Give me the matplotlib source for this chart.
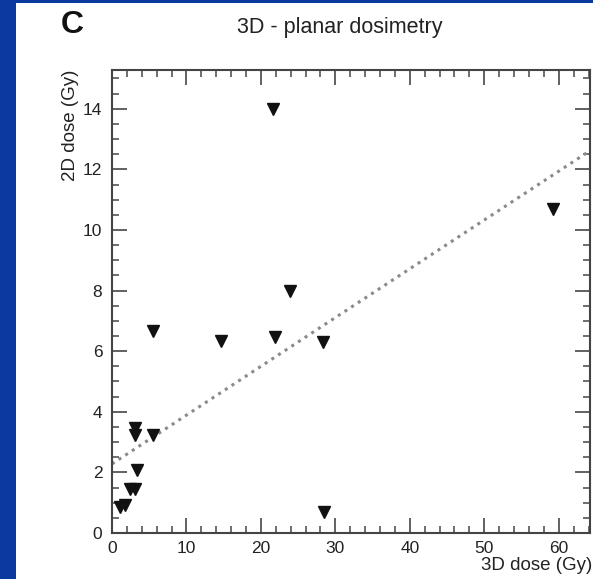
import numpy as np
import matplotlib.pyplot as plt
from matplotlib.patches import Rectangle
from matplotlib.ticker import MultipleLocator

plt.rcParams['font.family'] = ['Liberation Sans', 'DejaVu Sans']

# data
dose_3d = [21.6, 23.9, 21.9, 28.3, 5.5, 14.6, 5.5, 3.1, 3.1, 3.4,
           2.4, 3.1, 1.1, 1.7, 28.5, 59.2]
dose_2d = [14.0, 8.0, 6.47, 6.3, 6.67, 6.34, 3.23, 3.47, 3.23, 2.08,
           1.45, 1.45, 0.86, 0.92, 0.7, 10.7]

# fitted line (intercept, slope)
fit_a = 2.28
fit_b = 0.161

fig = plt.figure(figsize=(5.93, 5.79), dpi=100)
fig.patch.set_facecolor('#0b3a9e')
fig.patches.append(Rectangle((16 / 593, 0), 1, 1 - 3 / 579,
                             transform=fig.transFigure, facecolor='white',
                             edgecolor='none', zorder=-10))

ax = fig.add_axes([112 / 593, 46 / 579, 478 / 593, 463 / 579])
ax.set_xlim(0, 64.2)
ax.set_ylim(0, 15.28)

xs = np.array([0, 64.2])
ax.plot(xs, fit_a + fit_b * xs, color='#8a8a8a', lw=2.2,
        linestyle=(0, (1, 1.6)))
ax.plot(dose_3d, dose_2d, linestyle='none', marker='v', ms=8,
        color='#111111')

ax.xaxis.set_major_locator(MultipleLocator(10))
ax.xaxis.set_minor_locator(MultipleLocator(2))
ax.yaxis.set_major_locator(MultipleLocator(2))
ax.yaxis.set_minor_locator(MultipleLocator(0.5))
ax.tick_params(which='both', direction='in', top=True, right=True,
               color='#555555', labelsize=12.5, labelcolor='#222222')
ax.tick_params(which='major', length=11, width=1.3)
ax.tick_params(which='minor', length=5, width=1.2)
ax.tick_params(axis='x', pad=6)
ax.tick_params(axis='y', pad=7)
for s in ax.spines.values():
    s.set_color('#444444')
    s.set_linewidth(1.5)

ax.set_xlabel('3D dose (Gy)', fontsize=13.5, color='#222222', loc='right')
ax.xaxis.set_label_coords(1.005, -0.052)
ax.set_ylabel('2D dose (Gy)', fontsize=13.5, color='#222222', loc='top')
ax.yaxis.set_label_coords(-0.069, 1.0)

fig.text(340 / 593, 1 - 28 / 579, '3D - planar dosimetry', fontsize=15.5,
         color='#222222', ha='center', va='center')
fig.text(72 / 593, 1 - 25 / 579, 'C', fontsize=23, fontweight='bold',
         color='#111111', ha='center', va='center')

fig.savefig('out.png', dpi=100, facecolor=fig.get_facecolor())
